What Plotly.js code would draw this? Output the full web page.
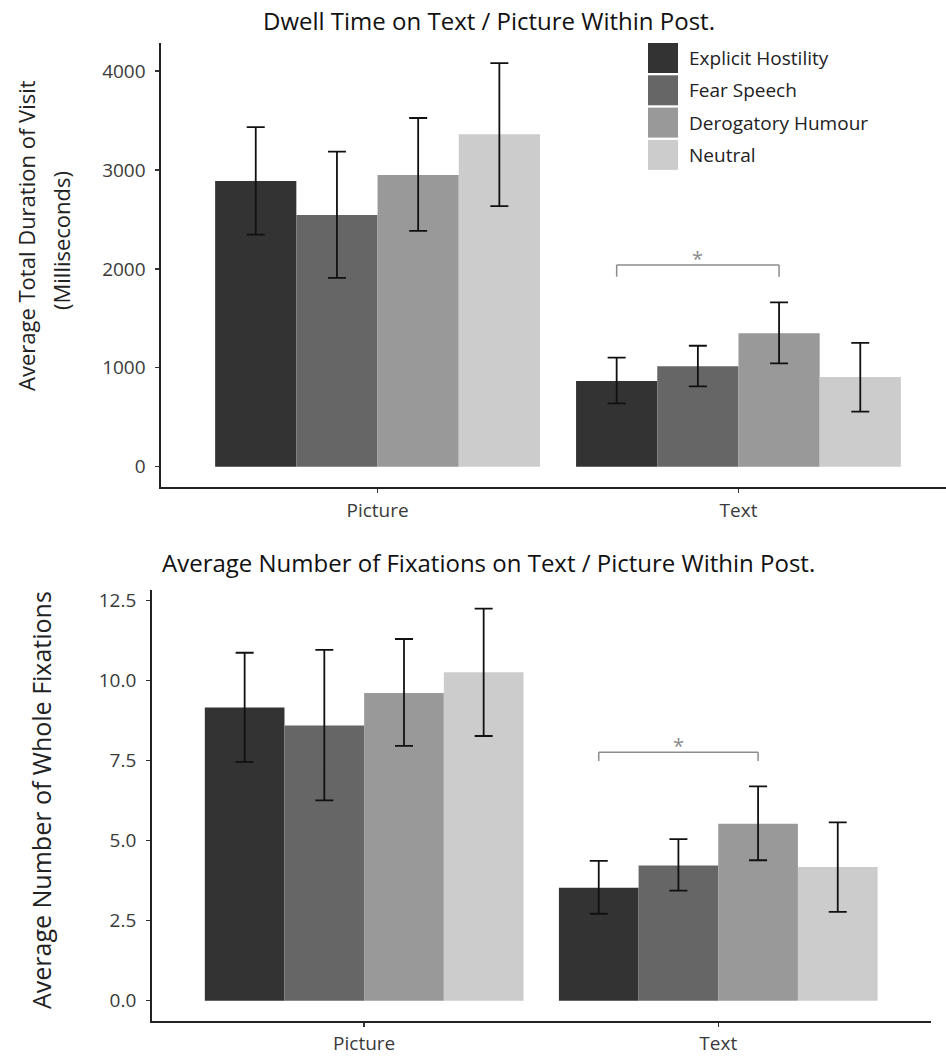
<!DOCTYPE html>
<html>
<head>
<meta charset="utf-8">
<script src="https://cdn.plot.ly/plotly-3.0.1.min.js"></script>
<style>html,body{margin:0;padding:0;background:#fff;}#chart{width:946px;height:1059px;}</style>
</head>
<body>
<div id="chart"></div>
<script>
// ---- data ----
const categories = ['Picture', 'Text'];
const seriesNames = ['Explicit Hostility', 'Fear Speech', 'Derogatory Humour', 'Neutral'];
const seriesColors = ['#333333', '#666666', '#999999', '#cccccc'];

// Dwell time (ms): mean, upper CI, lower CI  [Picture, Text]
const dwellExplicit = [2889, 866];
const dwellExplicitUpper = [3432, 1102];
const dwellExplicitLower = [2346, 641];
const dwellFear = [2545, 1015];
const dwellFearUpper = [3185, 1223];
const dwellFearLower = [1908, 813];
const dwellHumour = [2948, 1349];
const dwellHumourUpper = [3525, 1662];
const dwellHumourLower = [2383, 1045];
const dwellNeutral = [3360, 907];
const dwellNeutralUpper = [4080, 1251];
const dwellNeutralLower = [2634, 556];

// Fixations: mean, upper CI, lower CI  [Picture, Text]
const fixExplicit = [9.16, 3.53];
const fixExplicitUpper = [10.87, 4.37];
const fixExplicitLower = [7.46, 2.72];
const fixFear = [8.60, 4.23];
const fixFearUpper = [10.96, 5.05];
const fixFearLower = [6.26, 3.44];
const fixHumour = [9.61, 5.53];
const fixHumourUpper = [11.30, 6.70];
const fixHumourLower = [7.96, 4.39];
const fixNeutral = [10.26, 4.18];
const fixNeutralUpper = [12.25, 5.57];
const fixNeutralLower = [8.27, 2.78];

// significance bracket (Text: Explicit Hostility vs Derogatory Humour)
const dwellSigLevel = [2040, 1921];
const fixSigLevel = [7.76, 7.49];
const sigLabel = '*';

const titleTop = 'Dwell Time on Text / Picture Within Post.';
const titleBottom = 'Average Number of Fixations on Text / Picture Within Post.';
const yTitleTop1 = 'Average Total Duration of Visit';
const yTitleTop2 = '(Milliseconds)';
const yTitleBottom = 'Average Number of Whole Fixations';

// ---- build ----
const FONT = '"Open Sans", "DejaVu Sans", sans-serif';
const dwell = [
  [dwellExplicit, dwellExplicitUpper, dwellExplicitLower],
  [dwellFear, dwellFearUpper, dwellFearLower],
  [dwellHumour, dwellHumourUpper, dwellHumourLower],
  [dwellNeutral, dwellNeutralUpper, dwellNeutralLower]
];
const fix = [
  [fixExplicit, fixExplicitUpper, fixExplicitLower],
  [fixFear, fixFearUpper, fixFearLower],
  [fixHumour, fixHumourUpper, fixHumourLower],
  [fixNeutral, fixNeutralUpper, fixNeutralLower]
];

function makeTraces(set, xa, ya) {
  return set.map((s, i) => ({
    type: 'bar',
    x: categories,
    y: s[0],
    name: seriesNames[i],
    xaxis: xa, yaxis: ya,
    marker: {color: seriesColors[i], line: {width: 0}},
    error_y: {
      type: 'data', symmetric: false,
      array: s[1].map((u, k) => u - s[0][k]),
      arrayminus: s[0].map((m, k) => m - s[2][k]),
      color: '#111111', thickness: 1.8, width: 9
    },
    showlegend: false,
    hoverinfo: 'skip'
  }));
}

const traces = makeTraces(dwell, 'x', 'y').concat(makeTraces(fix, 'x2', 'y2'));

// bar positions inside group (group width 0.9, 4 bars)
const barW = 0.9 / 4;
const centerOf = (cat, idx) => cat - 0.45 + barW * (idx + 0.5);
const sxa = centerOf(1, 0), sxb = centerOf(1, 2);

const shapes = [];
function bracket(xr, yr, lv) {
  const st = {color: '#8c8c8c', width: 1.5};
  shapes.push({type: 'line', xref: xr, yref: yr, x0: sxa, x1: sxb, y0: lv[0], y1: lv[0], line: st});
  shapes.push({type: 'line', xref: xr, yref: yr, x0: sxa, x1: sxa, y0: lv[0], y1: lv[1], line: st});
  shapes.push({type: 'line', xref: xr, yref: yr, x0: sxb, x1: sxb, y0: lv[0], y1: lv[1], line: st});
}
bracket('x', 'y', dwellSigLevel);
bracket('x2', 'y2', fixSigLevel);

const W = 946, H = 1059;
const px = v => v / W, py = v => 1 - v / H;

const annotations = [];
annotations.push({xref: 'x', yref: 'y', x: (sxa + sxb) / 2, y: dwellSigLevel[0], text: sigLabel, showarrow: false,
  yanchor: 'bottom', yshift: -9, font: {family: FONT, size: 20, color: '#8c8c8c'}});
annotations.push({xref: 'x2', yref: 'y2', x: (sxa + sxb) / 2, y: fixSigLevel[0], text: sigLabel, showarrow: false,
  yanchor: 'bottom', yshift: -9, font: {family: FONT, size: 20, color: '#8c8c8c'}});

// custom legend (large keys, as in the reference)
seriesNames.forEach((n, i) => {
  const top = 43 + i * 32.3;
  shapes.push({type: 'rect', xref: 'paper', yref: 'paper', x0: px(648), x1: px(678), y0: py(top), y1: py(top + 30),
    fillcolor: seriesColors[i], line: {width: 0}});
  annotations.push({xref: 'paper', yref: 'paper', x: px(687), y: py(top + 15), xanchor: 'left', yanchor: 'middle',
    text: n, showarrow: false, font: {family: FONT, size: 19, color: '#222'}});
});

// titles
annotations.push({xref: 'paper', yref: 'paper', x: px(489), y: py(562), xanchor: 'center', yanchor: 'middle',
  text: titleBottom, showarrow: false, font: {family: FONT, size: 24, color: '#111'}});
annotations.push({xref: 'paper', yref: 'paper', x: px(26), y: py(236), textangle: -90, xanchor: 'center', yanchor: 'middle',
  text: yTitleTop1, showarrow: false, font: {family: FONT, size: 22, color: '#222'}});
annotations.push({xref: 'paper', yref: 'paper', x: px(61), y: py(240), textangle: -90, xanchor: 'center', yanchor: 'middle',
  text: yTitleTop2, showarrow: false, font: {family: FONT, size: 22, color: '#222'}});
annotations.push({xref: 'paper', yref: 'paper', x: px(41), y: py(800), textangle: -90, xanchor: 'center', yanchor: 'middle',
  text: yTitleBottom, showarrow: false, font: {family: FONT, size: 25, color: '#222'}});

const axisCommon = {
  showline: true, linecolor: '#222', linewidth: 1.6, showgrid: false, zeroline: false,
  ticks: 'outside', ticklen: 4, tickwidth: 1.3, tickcolor: '#333',
  tickfont: {family: FONT, size: 19, color: '#3a3a3a'}, fixedrange: true
};

const layout = {
  width: W, height: H,
  margin: {l: 0, r: 0, t: 0, b: 0},
  paper_bgcolor: '#fff', plot_bgcolor: '#fff',
  font: {family: FONT},
  title: {text: titleTop, x: px(489), xanchor: 'center', y: py(22), yanchor: 'middle', xref: 'paper', yref: 'paper',
    font: {family: FONT, size: 24, color: '#111'}},
  barmode: 'group', bargap: 0.1, bargroupgap: 0,
  showlegend: false,
  xaxis: Object.assign({}, axisCommon, {domain: [px(161), 1], range: [-0.6, 1.575], type: 'category', anchor: 'y', ticklabelstandoff: 2}),
  yaxis: Object.assign({}, axisCommon, {domain: [1 - 487 / H, 1 - 43 / H], range: [-205, 4283], tickvals: [0, 1000, 2000, 3000, 4000], anchor: 'x', ticklabelstandoff: 6}),
  xaxis2: Object.assign({}, axisCommon, {domain: [px(151.7), px(930.7)], range: [-0.6, 1.6], type: 'category', anchor: 'y2', ticklabelstandoff: 1}),
  yaxis2: Object.assign({}, axisCommon, {domain: [1 - 1021 / H, 1 - 590 / H], range: [-0.63, 12.83], tickvals: [0, 2.5, 5, 7.5, 10, 12.5],
    ticktext: ['0.0', '2.5', '5.0', '7.5', '10.0', '12.5'], anchor: 'x2', ticklabelstandoff: 6}),
  shapes: shapes,
  annotations: annotations
};

Plotly.newPlot('chart', traces, layout, {displayModeBar: false, staticPlot: true});
</script>
</body>
</html>
